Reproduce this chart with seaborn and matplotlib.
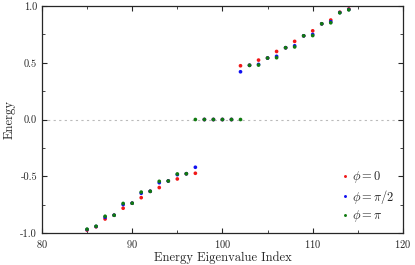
import numpy as np
import pandas as pd
import matplotlib
matplotlib.use("Agg")
import matplotlib.pyplot as plt
from matplotlib.ticker import MultipleLocator
import seaborn as sns

# energies, upper band (index 102..114);
# the lower band is the mirror image (index 85..97)
idx_up = [102, 103, 104, 105, 106, 107, 108, 109, 110, 111, 112, 113, 114]
e_phi0 = [0.474, 0.478, 0.524, 0.542, 0.600, 0.633, 0.689, 0.738, 0.782, 0.844, 0.877, 0.946, 0.975]
e_phi_half = [0.421, 0.478, 0.486, 0.542, 0.557, 0.633, 0.650, 0.738, 0.750, 0.844, 0.862, 0.943, 0.970]
e_phi_pi = [0.0, 0.478, 0.480, 0.542, 0.545, 0.633, 0.640, 0.738, 0.740, 0.844, 0.853, 0.941, 0.967]
# zero modes in the gap
idx_zero = [98, 99, 100, 101]

labels = [r"$\phi=0$", r"$\phi=\pi/2$", r"$\phi=\pi$"]
colors = ["#f01818", "#1010f0", "#107a10"]

rows = []
for lab, e in zip(labels, [e_phi0, e_phi_half, e_phi_pi]):
    for i, v in zip(idx_up, e):
        rows.append((i, v, lab))
        rows.append((199 - i, -v, lab))  # mirror partner
    for i in idx_zero:
        rows.append((i, 0.0, lab))
df = pd.DataFrame(rows, columns=["index", "energy", "phase"])

sns.set_style("ticks")
plt.rcParams["font.family"] = ["cmr10", "DejaVu Serif"]
plt.rcParams["mathtext.fontset"] = "cm"
plt.rcParams["axes.formatter.use_mathtext"] = True

fig = plt.figure(figsize=(4.15, 2.65), dpi=100)
ax = fig.add_axes([0.101, 0.121, 0.870, 0.856])

ax.axhline(0, color="#bbbbbb", ls=(0, (2, 3)), lw=0.8, zorder=0)
sns.scatterplot(data=df, x="index", y="energy", hue="phase", hue_order=labels,
                palette=colors, s=7, linewidth=0, ax=ax)

ax.set_xlim(80, 120)
ax.set_ylim(-1, 1)
ax.xaxis.set_major_locator(MultipleLocator(10))
ax.xaxis.set_minor_locator(MultipleLocator(5))
ax.yaxis.set_major_locator(MultipleLocator(0.5))
ax.yaxis.set_minor_locator(MultipleLocator(0.25))
ax.yaxis.set_major_formatter(plt.FuncFormatter(lambda v, p: "%.1f" % v))
ax.tick_params(which="both", direction="in", top=True, right=True, labelsize=7.5)
ax.tick_params(which="major", length=3.5, width=0.8)
ax.tick_params(which="minor", length=2, width=0.6)
for s in ax.spines.values():
    s.set_linewidth(0.9)

ax.set_xlabel("Energy Eigenvalue Index", fontsize=9, labelpad=1)
ax.set_ylabel("Energy", fontsize=9, labelpad=3)

leg = ax.legend(loc="lower right", frameon=False, fontsize=9, handletextpad=0.1,
                markerscale=0.8, borderpad=0.2, labelspacing=0.2, handlelength=0.8)

fig.savefig("out.png", dpi=100)
